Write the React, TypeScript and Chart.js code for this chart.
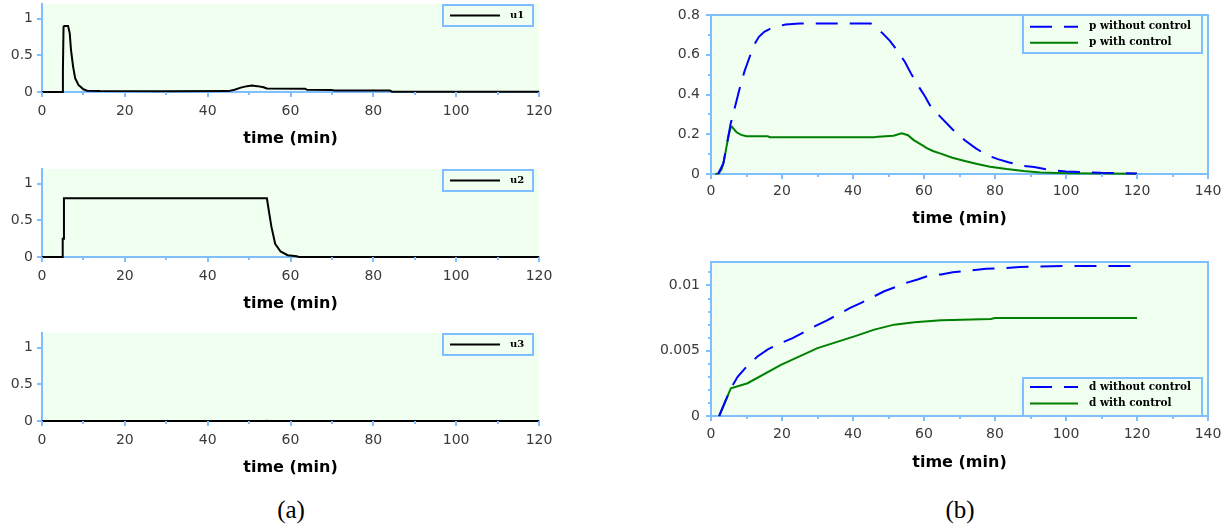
import React, { useEffect, useRef } from 'react';
import { Chart, registerables } from 'chart.js';

Chart.register(...registerables);

const AXIS_BLUE = '#80bfff';
const PLOT_BG = '#f0fff0';
const TICK_FONT = { family: 'DejaVu Sans', size: 14 };
const TITLE_FONT = { family: 'DejaVu Sans', size: 16, weight: 'bold' as const };
const X_TITLE = 'time (min)';

// ---- (a) control inputs ----
const tU1 = [0, 4.9, 5.05, 5.2, 5.4, 6.3, 6.7, 7.0, 7.5, 8.0, 8.8, 10.0, 10.9, 14, 30, 45, 46.5, 48, 49.5, 50.7, 52, 53.5, 54.3, 63.5, 64, 70, 70.5, 84, 84.5, 120];
const u1 = [0, 0, 0.3, 0.89, 0.9, 0.9, 0.8, 0.575, 0.35, 0.19, 0.096, 0.037, 0.018, 0.012, 0.01, 0.012, 0.03, 0.06, 0.08, 0.087, 0.08, 0.064, 0.048, 0.046, 0.03, 0.028, 0.02, 0.02, 0.005, 0.005];

const tU2 = [0, 4.9, 5.0, 5.1, 5.3, 54.3, 54.8, 55.4, 56.3, 57.6, 59.3, 61.5, 62, 120];
const u2 = [0, 0, 0.25, 0.25, 0.8, 0.8, 0.62, 0.41, 0.18, 0.075, 0.025, 0.01, 0, 0];

const tU3 = [0, 54, 54.3, 54.6, 120];
const u3 = [0, 0, 0.004, 0, 0];

// ---- (b) states ----
const tPNo = [2, 3.5, 4.9, 5.5, 6.5, 7.5, 8.5, 9.5, 10.5, 11.5, 12.5, 13.5, 15, 16.6, 18.5, 21, 25, 45, 46.7, 48.5, 50.4, 52.5, 54.6, 56.5, 58.5, 60.3, 61.7, 64.5, 68, 71.5, 74.5, 77.7, 80.8, 84, 87.6, 91, 94, 96.5, 100, 105, 110, 113, 120];
const pNo = [0, 0.055, 0.19, 0.25, 0.32, 0.39, 0.46, 0.52, 0.57, 0.62, 0.66, 0.69, 0.715, 0.73, 0.742, 0.752, 0.757, 0.757, 0.735, 0.705, 0.67, 0.62, 0.565, 0.5, 0.44, 0.39, 0.345, 0.29, 0.225, 0.17, 0.13, 0.095, 0.075, 0.058, 0.042, 0.035, 0.025, 0.018, 0.012, 0.01, 0.006, 0.005, 0.002];

const tPCtl = [1.2, 2.2, 3, 3.5, 4.2, 4.9, 5.5, 5.9, 6.5, 7.2, 8.5, 10, 16, 16.5, 46, 47, 51.4, 53.7, 55.5, 57, 59, 60.8, 62.5, 64.5, 68, 71.5, 75, 78.6, 83.3, 88, 92.7, 100, 110, 120];
const pCtl = [0, 0.003, 0.025, 0.055, 0.12, 0.19, 0.232, 0.238, 0.225, 0.21, 0.197, 0.19, 0.19, 0.185, 0.185, 0.188, 0.193, 0.205, 0.195, 0.172, 0.15, 0.13, 0.116, 0.104, 0.082, 0.065, 0.05, 0.037, 0.025, 0.015, 0.008, 0.004, 0.002, 0.001];

const tDNo = [2.3, 5.6, 7.5, 9.9, 13.1, 16, 19.7, 23, 29.6, 32.7, 39.2, 42.3, 48.8, 51.9, 55, 58.2, 61.5, 64.8, 68.1, 71.4, 77.5, 80.8, 87, 92, 100, 120];
const dNo = [0, 0.00213, 0.003, 0.00375, 0.00456, 0.0051, 0.00559, 0.00597, 0.00692, 0.00733, 0.00828, 0.00867, 0.00956, 0.00987, 0.0102, 0.01046, 0.01077, 0.01085, 0.01102, 0.0111, 0.01128, 0.01131, 0.01141, 0.01145, 0.0115, 0.0115];

const tDCtl = [2.3, 5.6, 10.3, 19.7, 30, 40.4, 46, 51.6, 57.3, 64.8, 68, 78.8, 80, 120];
const dCtl = [0, 0.00213, 0.00251, 0.00392, 0.0052, 0.0061, 0.00662, 0.007, 0.00718, 0.00733, 0.00735, 0.00744, 0.0075, 0.0075];

const pts = (t: number[], v: number[]) => t.map((x, i) => ({ x, y: v[i] }));

const fmt = (v: any) => {
  const n = Number(v);
  return parseFloat(n.toFixed(6)).toString();
};

const decorPlugin = {
  id: 'decor',
  beforeDraw(chart: any) {
    const { ctx, chartArea: a } = chart;
    ctx.save();
    ctx.fillStyle = PLOT_BG;
    ctx.fillRect(a.left, a.top, a.right - a.left, a.bottom - a.top);
    ctx.restore();
  },
  afterDraw(chart: any, _a: any, opts: any) {
    const { ctx, chartArea: a } = chart;
    const xs = chart.scales.x;
    const ys = chart.scales.y;
    ctx.save();
    ctx.strokeStyle = AXIS_BLUE;
    ctx.lineWidth = 2;
    if (opts.frame) {
      ctx.beginPath();
      ctx.moveTo(a.left, a.top);
      ctx.lineTo(a.right, a.top);
      ctx.lineTo(a.right, a.bottom);
      ctx.stroke();
    }
    // tick marks (major and minor)
    const nx = Math.floor(opts.xMax / opts.xMinor + 1e-6);
    for (let i = 0; i <= nx; i++) {
      const v = i * opts.xMinor;
      const r = v / opts.xStep;
      const major = Math.abs(r - Math.round(r)) < 1e-6;
      const px = Math.round(xs.getPixelForValue(v));
      ctx.beginPath();
      ctx.moveTo(px, a.bottom);
      ctx.lineTo(px, a.bottom + (major ? 5 : 3));
      ctx.stroke();
    }
    const ny = Math.floor(opts.yMax / opts.yMinor + 1e-6);
    for (let i = 0; i <= ny; i++) {
      const v = i * opts.yMinor;
      const r = v / opts.yStep;
      const major = Math.abs(r - Math.round(r)) < 1e-6;
      const py = Math.round(ys.getPixelForValue(v));
      ctx.beginPath();
      ctx.moveTo(a.left, py);
      ctx.lineTo(a.left - (major ? 5 : 3), py);
      ctx.stroke();
    }
    // inset legend
    const lg = opts.legend;
    if (lg) {
      const bx = a.right - lg.dx - lg.w;
      const by = lg.corner === 'top' ? a.top + lg.dy : a.bottom - lg.dy - lg.h;
      ctx.fillStyle = PLOT_BG;
      ctx.fillRect(bx, by, lg.w, lg.h);
      ctx.strokeStyle = AXIS_BLUE;
      ctx.lineWidth = 2;
      ctx.strokeRect(bx, by, lg.w, lg.h);
      chart.data.datasets.forEach((ds: any, i: number) => {
        const y = by + lg.rows[i];
        ctx.strokeStyle = ds.borderColor;
        ctx.lineWidth = 2;
        ctx.setLineDash(ds.borderDash || []);
        ctx.beginPath();
        ctx.moveTo(bx + lg.sampleX, y);
        ctx.lineTo(bx + lg.sampleX + lg.sampleLen, y);
        ctx.stroke();
        ctx.setLineDash([]);
        ctx.fillStyle = '#000';
        ctx.font = lg.font;
        ctx.textBaseline = 'middle';
        ctx.textAlign = 'left';
        ctx.fillText(ds.label, bx + lg.textX, y);
      });
    }
    ctx.restore();
  },
};

type PanelSpec = {
  left: number; top: number; width: number; height: number;
  padTop: number; padRight: number; yWidth: number; xHeight: number;
  xMax: number; xStep: number; xMinor: number;
  yMax: number; yStep: number; yMinor: number;
  xPad: number; yPad: number; frame: boolean;
  datasets: any[]; legend: any;
};

const blackLine = (label: string, t: number[], v: number[]) => ({
  label, data: pts(t, v), borderColor: '#000000', borderWidth: 2,
});
const blueDash = (label: string, t: number[], v: number[]) => ({
  label, data: pts(t, v), borderColor: '#0000ff', borderWidth: 2, borderDash: [22, 12],
});
const greenLine = (label: string, t: number[], v: number[]) => ({
  label, data: pts(t, v), borderColor: '#008000', borderWidth: 2,
});

const uLegend = { corner: 'top', w: 90, h: 21, dx: 6, dy: 1, rows: [10.5], sampleX: 7, sampleLen: 50, textX: 67, font: 'bold 10px "DejaVu Serif"' };

const leftBase = {
  left: 0, width: 560, height: 148, padTop: 4, padRight: 21, yWidth: 42, xHeight: 56,
  xMax: 120, xStep: 20, xMinor: 10, yMax: 1.2, yStep: 0.5, yMinor: 0.5, xPad: 11.4, yPad: 9, frame: false,
};

const panels: PanelSpec[] = [
  { ...leftBase, top: 0, datasets: [blackLine('u1', tU1, u1)], legend: uLegend },
  { ...leftBase, top: 165, datasets: [blackLine('u2', tU2, u2)], legend: uLegend },
  { ...leftBase, top: 329, datasets: [blackLine('u3', tU3, u3)], legend: uLegend },
  {
    left: 600, top: 0, width: 630, height: 228, padTop: 15, padRight: 22, yWidth: 111, xHeight: 54,
    xMax: 140, xStep: 20, xMinor: 10, yMax: 0.8, yStep: 0.2, yMinor: 0.1, xPad: 9.4, yPad: 11, frame: true,
    datasets: [blueDash('p without control', tPNo, pNo), greenLine('p with control', tPCtl, pCtl)],
    legend: { corner: 'top', w: 179, h: 38, dx: 6, dy: 0, rows: [11.7, 27.7], sampleX: 7, sampleLen: 48, textX: 66, font: 'bold 10.5px "DejaVu Serif"' },
  },
  {
    left: 600, top: 250, width: 630, height: 222, padTop: 12, padRight: 22, yWidth: 111, xHeight: 56,
    xMax: 140, xStep: 20, xMinor: 10, yMax: 0.0118, yStep: 0.005, yMinor: 0.001, xPad: 10.4, yPad: 11, frame: true,
    datasets: [blueDash('d without control', tDNo, dNo), greenLine('d with control', tDCtl, dCtl)],
    legend: { corner: 'bottom', w: 179, h: 38, dx: 6, dy: 0, rows: [9, 25.6], sampleX: 7, sampleLen: 48, textX: 66, font: 'bold 10.5px "DejaVu Serif"' },
  },
];

function Panel({ spec }: { spec: PanelSpec }) {
  const ref = useRef<HTMLCanvasElement | null>(null);
  useEffect(() => {
    if (!ref.current) return;
    const s = spec;
    const chart = new Chart(ref.current, {
      type: 'line',
      data: {
        datasets: s.datasets.map((d) => ({ ...d, pointRadius: 0, tension: 0, fill: false, clip: 4 })),
      },
      options: {
        animation: false,
        responsive: false,
        devicePixelRatio: 1,
        layout: { padding: { left: 0, top: s.padTop, right: s.padRight, bottom: 0 } },
        plugins: {
          legend: { display: false },
          tooltip: { enabled: false },
          decor: {
            frame: s.frame, legend: s.legend,
            xMax: s.xMax, xStep: s.xStep, xMinor: s.xMinor,
            yMax: s.yMax, yStep: s.yStep, yMinor: s.yMinor,
          },
        } as any,
        scales: {
          x: {
            type: 'linear', min: 0, max: s.xMax,
            grid: { display: true, drawOnChartArea: false, drawTicks: false },
            border: { display: true, color: AXIS_BLUE, width: 2 },
            ticks: { stepSize: s.xStep, padding: s.xPad, font: TICK_FONT, color: '#3a3a3a', maxRotation: 0, includeBounds: false, callback: fmt },
            title: { display: true, text: X_TITLE, font: TITLE_FONT, color: '#000', padding: 0 },
            afterFit: (sc: any) => {
              sc.height = s.xHeight;
              sc.paddingLeft = 0; sc.paddingRight = 0; sc.paddingTop = 0; sc.paddingBottom = 0;
            },
          },
          y: {
            type: 'linear', min: 0, max: s.yMax,
            grid: { display: true, drawOnChartArea: false, drawTicks: false },
            border: { display: true, color: AXIS_BLUE, width: 2 },
            ticks: { stepSize: s.yStep, padding: s.yPad, font: TICK_FONT, color: '#3a3a3a', includeBounds: false, callback: fmt },
            afterFit: (sc: any) => {
              sc.width = s.yWidth;
              sc.paddingLeft = 0; sc.paddingRight = 0; sc.paddingTop = 0; sc.paddingBottom = 0;
            },
          },
        },
      } as any,
      plugins: [decorPlugin],
    });
    return () => chart.destroy();
  }, [spec]);
  return (
    <canvas
      ref={ref}
      width={spec.width}
      height={spec.height}
      style={{ position: 'absolute', left: spec.left, top: spec.top, width: spec.width, height: spec.height }}
    />
  );
}

const captionStyle: React.CSSProperties = {
  position: 'absolute', width: 100, textAlign: 'center', top: 495, height: 30,
  lineHeight: '30px', fontFamily: '"Liberation Serif", serif', fontSize: 25, color: '#000',
};

export default function App() {
  return (
    <div style={{ position: 'fixed', left: 0, top: 0, width: 1230, height: 528, background: '#fff', overflow: 'hidden' }}>
      {panels.map((p, i) => <Panel key={i} spec={p} />)}
      <div style={{ ...captionStyle, left: 241 }}>(a)</div>
      <div style={{ ...captionStyle, left: 910 }}>(b)</div>
    </div>
  );
}
